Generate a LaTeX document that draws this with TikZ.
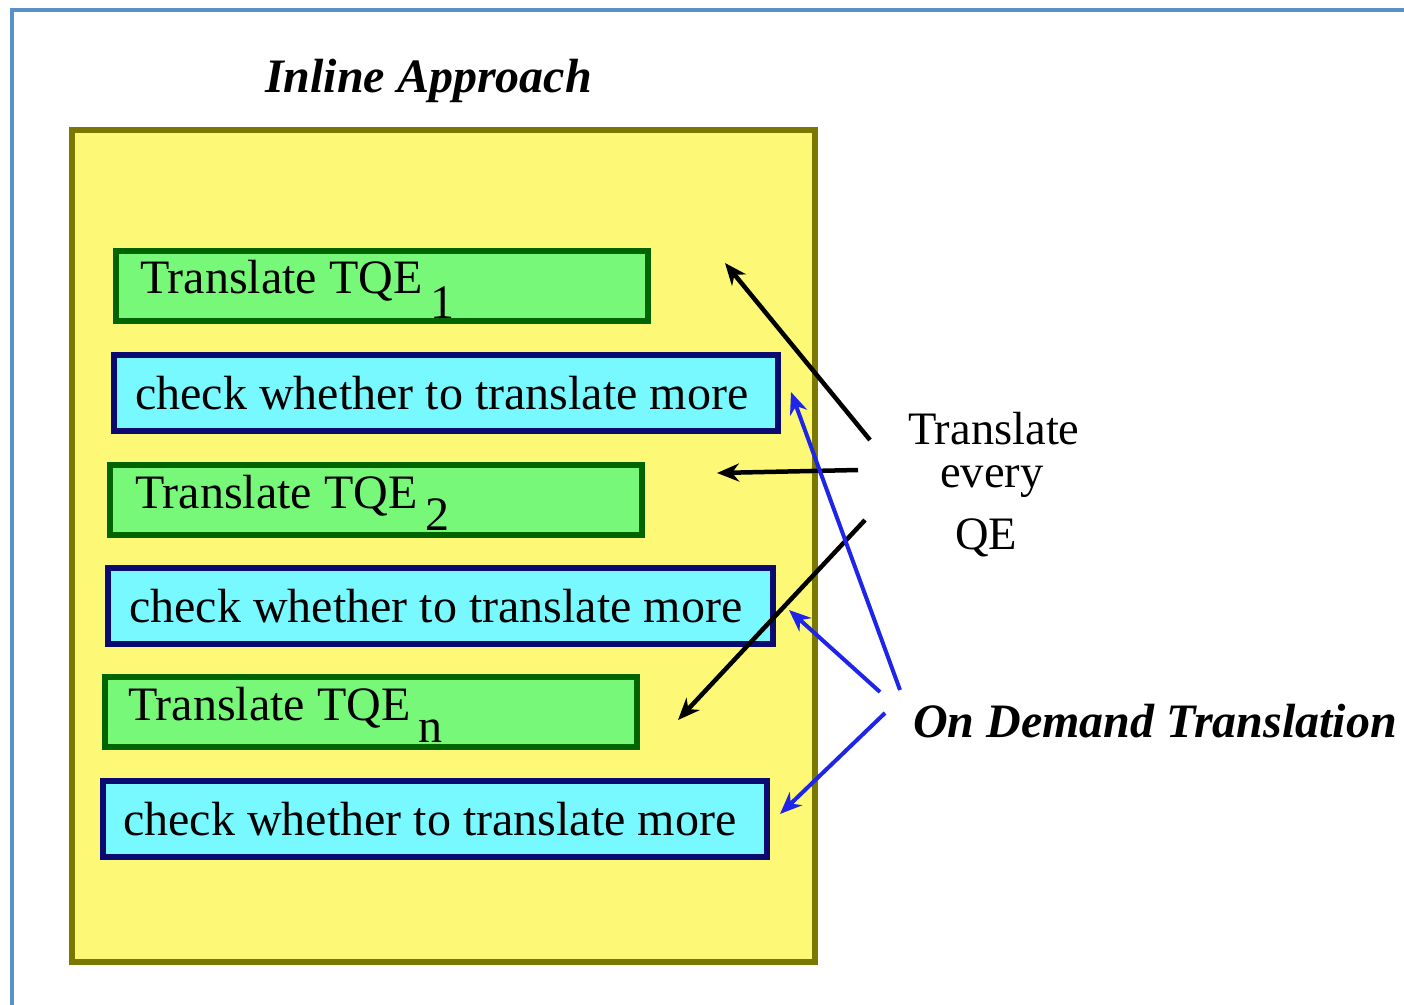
\documentclass[tikz,border=0pt]{standalone}
\usepackage{fontspec}
\setmainfont{Liberation Serif}
\usetikzlibrary{arrows.meta}
\definecolor{frameblue}{HTML}{5B8FCC}
\definecolor{yfill}{HTML}{FDF977}
\definecolor{olive}{HTML}{7A7800}
\definecolor{gfill}{HTML}{78F878}
\definecolor{gdraw}{HTML}{006400}
\definecolor{cfill}{HTML}{78F8FF}
\definecolor{cdraw}{HTML}{0A0A70}
\definecolor{arrblue}{HTML}{1E24E8}
\tikzset{
  gbox/.style={draw=gdraw, fill=gfill, line width=6pt, inner sep=0pt, anchor=north west},
  cbox/.style={draw=cdraw, fill=cfill, line width=6pt, inner sep=0pt, anchor=north west},
  boxtext/.style={anchor=base west, inner sep=0pt, font=\fontsize{48}{50}\selectfont},
  sidetext/.style={anchor=base west, inner sep=0pt, font=\fontsize{46.5}{50}\selectfont},
  titletext/.style={anchor=base west, inner sep=0pt, font=\fontsize{48}{50}\selectfont\bfseries\itshape},
  blackarr/.style={line width=4.5pt, -{Stealth[length=22pt,width=18pt,inset=7pt]}},
  bluearr/.style={draw=arrblue, line width=4pt, -{Stealth[length=22pt,width=18pt,inset=7pt]}}
}
\begin{document}
\begin{tikzpicture}[x=1pt,y=-1pt]
\useasboundingbox (0,0) rectangle (1404,1004);
% frame
\draw[frameblue, line width=4pt] (12,1010) -- (12,10) -- (1410,10);
% yellow panel
\node[draw=olive, fill=yfill, line width=6pt, inner sep=0pt, anchor=north west,
      minimum width=743pt, minimum height=832pt] (panel) at (69,127) {};
\node[titletext] (title) at (265,92) {Inline Approach};
% boxes
\node[gbox, minimum width=532pt, minimum height=70pt] (g1) at (113,248) {};
\node[boxtext] (g1t) at (140,293) {Translate TQE\,\raisebox{-25pt}{1}};
\node[cbox, minimum width=664pt, minimum height=76pt] (c1) at (111,352) {};
\node[boxtext] (c1t) at (135,409) {check whether to translate more};
\node[gbox, minimum width=532pt, minimum height=70pt] (g2) at (107,462) {};
\node[boxtext] (g2t) at (135,508) {Translate TQE\,\raisebox{-22pt}{2}};
\node[cbox, minimum width=665pt, minimum height=76pt] (c2) at (105,565) {};
\node[boxtext] (c2t) at (129,622) {check whether to translate more};
\node[gbox, minimum width=532pt, minimum height=70pt] (g3) at (102,674) {};
\node[boxtext] (g3t) at (128,720) {Translate TQE\,\raisebox{-22pt}{n}};
\node[cbox, minimum width=664pt, minimum height=76pt] (c3) at (100,778) {};
\node[boxtext] (c3t) at (123,835) {check whether to translate more};
% side labels
\node[sidetext] (tr) at (908,444) {Translate};
\node[sidetext] (ev) at (940,487) {every};
\node[sidetext] (qe) at (955,549) {QE};
\node[titletext] (od) at (913,737) {On Demand Translation};
% arrow coordinates
\coordinate (a1s) at (870,440);
\coordinate (a1e) at (725,263);
\coordinate (a2s) at (858,470);
\coordinate (a2e) at (717,473);
\coordinate (a3s) at (865,520);
\coordinate (a3e) at (678,720);
\coordinate (b1s) at (900,690);
\coordinate (b1e) at (791,392);
\coordinate (b2s) at (880,692);
\coordinate (b2e) at (789,610);
\coordinate (b3s) at (885,713);
\coordinate (b3e) at (780,814);
\draw[blackarr] (a1s) -- (a1e);
\draw[blackarr] (a2s) -- (a2e);
\draw[blackarr] (a3s) -- (a3e);
\draw[bluearr] (b1s) -- (b1e);
\draw[bluearr] (b2s) -- (b2e);
\draw[bluearr] (b3s) -- (b3e);
\end{tikzpicture}
\end{document}
